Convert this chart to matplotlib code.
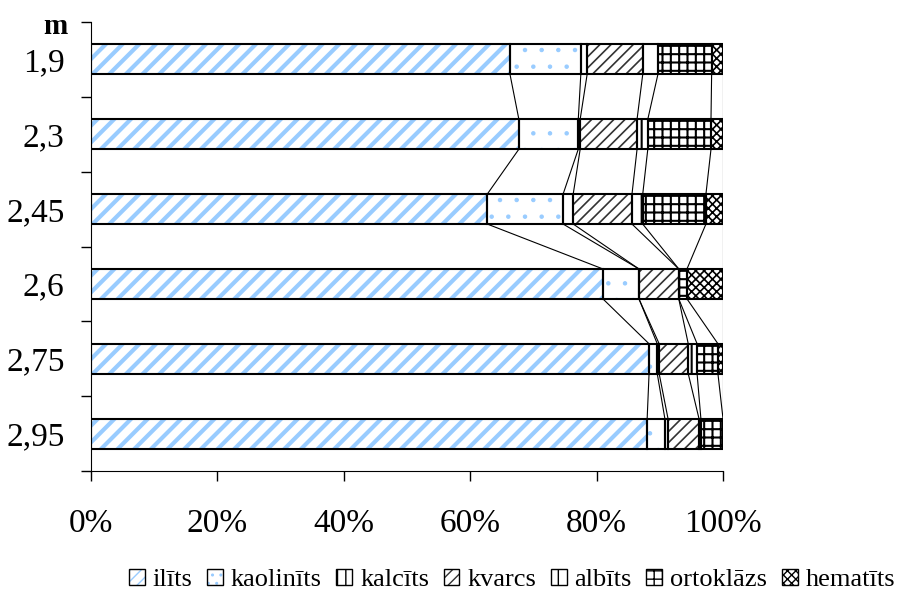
import matplotlib
matplotlib.use('Agg')
import matplotlib.pyplot as plt
import matplotlib.patches as mpatches
from matplotlib.legend_handler import HandlerTuple
import numpy as np

plt.rcParams['font.family'] = ['Liberation Serif', 'DejaVu Serif']

# depth, m
depths = ['1,9', '2,3', '2,45', '2,6', '2,75', '2,95']

# mineral composition, %
ilits      = [66.3, 67.7, 62.7, 81.0, 88.3, 88.0]
kaolinits  = [11.2,  9.4, 12.0,  5.7,  1.3,  2.8]
kalcits    = [ 1.0,  0.3,  1.6,  0.0,  0.3,  0.5]
kvarcs     = [ 8.8,  9.0,  9.3,  6.3,  4.6,  4.9]
albits     = [ 2.4,  1.7,  1.7,  0.0,  1.4,  0.3]
ortoklazs  = [ 8.5, 10.0, 10.0,  1.3,  3.3,  3.5]
hematits   = [ 1.8,  1.9,  2.7,  5.7,  0.8,  0.0]

names = ['ilīts', 'kaolinīts', 'kalcīts', 'kvarcs', 'albīts', 'ortoklāzs', 'hematīts']
series = [ilits, kaolinits, kalcits, kvarcs, albits, ortoklazs, hematits]

# hatch in bars, hatch in legend, hatch colour, hatch linewidth
styles = [('//', '///', '#99CCFF', 3.0),
          ('.', '..', '#99CCFF', 0.8),
          ('|', '||', 'black', 1.0),
          ('///', '///', '#333333', 1.2),
          ('|', '|', 'black', 1.5),
          ('++', '++', 'black', 1.5),
          ('xxxx', 'xxxx', 'black', 1.2)]

fig = plt.figure(figsize=(9.02, 6.03), dpi=100)
ax = fig.add_axes([91/902, 1 - 471/603, 632/902, 449/603])

y = np.arange(len(depths))
h = 0.4
left = np.zeros(len(depths))
ends = []
handles = []
for vals, name, (hatch, lhatch, hc, hlw) in zip(series, names, styles):
    vals = np.array(vals)
    with plt.rc_context({'hatch.linewidth': hlw}):
        ax.barh(y, vals, height=h, left=left, color='white',
                edgecolor=hc, linewidth=0, hatch=hatch, zorder=2)
        hp = mpatches.Patch(facecolor='white', edgecolor=hc, hatch=lhatch,
                            linewidth=0)
    ax.barh(y, vals, height=h, left=left, fill=False, edgecolor='black',
            linewidth=1.5, zorder=3)
    handles.append((hp, mpatches.Patch(fill=False, edgecolor='black', linewidth=1.0)))
    left = left + vals
    ends.append(left.copy())

# series lines between neighbouring bars
for e in ends:
    for i in range(len(depths) - 1):
        ax.plot([e[i], e[i + 1]], [y[i] + h / 2, y[i + 1] - h / 2],
                color='black', linewidth=0.8, zorder=1)

ax.set_xlim(0, 100)
ax.set_ylim(len(depths) - 0.5, -0.5)
ax.set_xticks(np.arange(0, 101, 20))
ax.set_xticklabels([f'{v}%' for v in range(0, 101, 20)])
ax.set_yticks(y)
ax.set_yticklabels(depths)
ax.set_yticks(np.arange(-0.5, len(depths)), minor=True)
ax.tick_params(axis='y', which='major', length=0, pad=19, labelsize=24)
ax.tick_params(axis='y', which='minor', length=7, direction='out', width=1)
ax.tick_params(axis='x', length=7, direction='out', width=1, pad=20, labelsize=24)
for s in ['top', 'right']:
    ax.spines[s].set_visible(False)

fig.text(67/902, 1 - 27/603, 'm', ha='right', va='center', fontsize=21,
         fontweight='bold')

fig.legend(handles, names, loc='center', bbox_to_anchor=(512/902, 1 - 580/603),
           ncol=7, frameon=False, fontsize=19, handlelength=0.6, handleheight=0.6,
           handletextpad=0.3, columnspacing=0.55,
           handler_map={tuple: HandlerTuple(ndivide=1, pad=0)})

fig.savefig('out.png', dpi=100)
